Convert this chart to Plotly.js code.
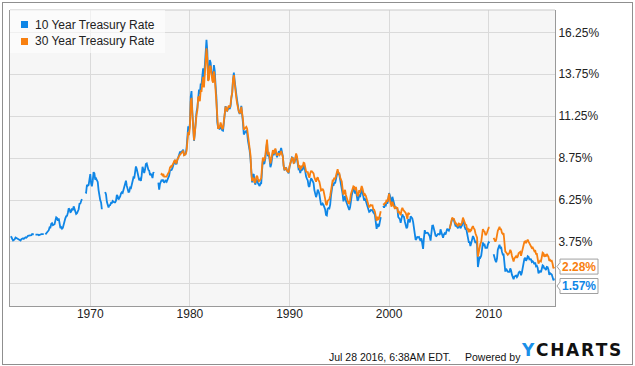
<!DOCTYPE html>
<html>
<head>
<meta charset="utf-8">
<script src="https://cdn.plot.ly/plotly-3.0.1.min.js"></script>
<style>
  html, body { margin: 0; padding: 0; background: #ffffff; }
  #wrap { position: relative; width: 635px; height: 366px; overflow: hidden; }
  #frame { position: absolute; left: 2px; top: 2px; width: 631px; height: 363px; box-sizing: border-box; border: 1px solid #8f8f8f; }
  #chart { position: absolute; left: 0; top: 0; width: 635px; height: 366px; }
</style>
</head>
<body>
<div id="wrap"><div id="frame"></div><div id="chart"></div></div>
<script>
// ---------------- DATA (monthly, %) ----------------
const seriesNames = ['10 Year Treasury Rate', '30 Year Treasury Rate'];
const seriesColors = ['#0f86e6', '#f88010'];

// 10 Year Treasury Rate, monthly from 1962-01
const r10Start = [1962, 1];
const r10_1960s = [
  4.08,4.04,3.93,3.84,3.87,3.91,4.01,3.98,3.98,3.93,3.92,3.86,
  3.83,3.92,3.93,3.97,3.93,3.99,4.02,4.00,4.08,4.11,4.12,4.13,
  4.17,4.15,4.22,4.23,4.20,null,4.19,4.19,4.20,4.19,4.15,4.18,
  4.19,4.21,4.21,4.20,4.21,null,4.20,4.25,4.29,4.35,4.45,4.62,
  4.61,4.83,4.87,4.75,4.78,4.81,5.02,5.22,5.18,5.01,5.16,4.84,
  4.58,4.63,4.54,4.59,4.85,5.02,5.16,5.28,5.30,5.48,5.75,5.70,
  5.53,5.56,5.74,5.64,5.87,5.72,5.50,5.42,5.46,5.58,5.70,6.03,
  6.04,6.19,6.30,null,null,null,6.72,6.69,7.16,7.10,7.14,7.65
];
const r10_1970s = [
  7.79,7.24,7.07,7.39,7.91,7.84,7.46,7.53,7.39,7.33,6.84,6.39,
  6.24,6.11,5.70,null,null,null,6.73,6.58,6.14,5.93,5.81,5.93,
  5.95,6.08,6.07,6.19,6.13,6.11,6.11,6.21,6.55,6.48,6.28,6.36,
  6.46,6.64,6.71,6.67,6.85,6.90,7.13,7.40,7.09,6.79,6.73,6.74,
  6.99,6.96,7.21,7.51,7.58,7.54,7.81,8.25,8.10,7.90,7.68,7.43,
  7.50,7.39,7.73,8.23,8.06,7.86,8.06,8.40,8.43,8.14,8.05,8.00,
  7.74,7.79,7.73,7.56,7.90,7.86,null,null,null,null,7.29,6.87,
  7.21,7.39,7.46,7.37,7.46,7.28,7.33,7.40,7.34,7.52,7.58,7.69,
  8.01,8.03,8.04,8.15,8.35,8.46,8.64,8.41,8.42,8.64,8.81,9.01,
  9.10,9.10,9.12,9.18,9.25,8.91,8.95,9.03,9.33,10.30,10.65,10.39
];
const r10_1980s = [
  10.80,12.41,12.75,11.47,10.18,9.78,10.25,11.10,11.51,11.75,12.68,12.84,
  12.57,13.19,13.12,13.68,14.10,13.47,14.28,14.94,15.80,15.15,13.39,13.72,
  14.59,14.43,13.86,13.87,13.62,14.30,13.95,13.06,12.34,10.91,10.55,10.54,
  10.46,10.72,10.51,10.40,10.38,10.85,11.38,11.85,11.65,11.54,11.69,11.83,
  11.67,11.84,12.32,12.63,13.41,13.85,13.36,12.72,12.52,12.16,11.57,11.50,
  11.38,11.51,11.86,11.43,10.85,10.16,10.31,10.33,10.37,10.24,9.78,9.26,
  9.19,8.70,7.78,7.30,7.71,7.80,7.30,7.17,7.45,7.43,7.25,7.11,
  7.08,7.25,7.25,8.02,8.61,8.40,8.45,8.76,9.42,9.70,8.86,8.99,
  8.67,8.21,8.37,8.72,9.09,8.92,9.06,9.26,8.98,8.80,8.96,9.11,
  9.09,9.17,9.36,9.18,8.86,8.28,8.02,8.11,8.19,8.01,7.87,7.84
];
const r10_1990s = [
  8.21,8.47,8.59,8.79,8.76,8.48,8.47,8.75,8.89,8.72,8.39,8.08,
  8.09,7.85,8.11,8.04,8.07,8.28,8.27,7.90,7.65,7.53,7.42,7.09,
  7.03,7.34,7.54,7.48,7.39,7.26,6.84,6.59,6.42,6.59,6.87,6.77,
  6.60,6.26,5.98,5.97,6.04,5.96,5.81,5.68,5.36,5.33,5.72,5.77,
  5.75,5.97,6.48,6.97,7.18,7.10,7.30,7.24,7.46,7.74,7.96,7.81,
  7.78,7.47,7.20,7.06,6.63,6.17,6.28,6.49,6.20,6.04,5.93,5.71,
  5.65,5.81,6.27,6.51,6.74,6.91,6.87,6.64,6.83,6.53,6.20,6.30,
  6.58,6.42,6.69,6.89,6.71,6.49,6.22,6.30,6.21,6.03,5.88,5.81,
  5.54,5.57,5.65,5.64,5.65,5.50,5.46,5.34,4.81,4.53,4.83,4.65,
  4.72,5.00,5.23,null,null,5.90,5.79,5.94,5.92,6.11,6.03,6.28
];
const r10_2000s = [
  6.66,6.52,6.26,5.99,6.44,6.10,6.05,5.83,5.80,5.74,5.72,5.24,
  5.16,5.10,4.89,5.14,5.39,5.28,5.24,4.97,4.73,4.57,4.65,5.09,
  5.04,4.91,5.28,5.21,5.16,4.93,4.65,4.26,3.87,3.94,4.05,4.03,
  4.05,3.90,3.81,3.96,3.57,3.33,3.98,4.45,4.27,4.29,4.30,4.27,
  4.15,4.08,3.83,4.35,4.72,4.73,4.50,4.28,4.13,4.10,4.19,4.23,
  4.22,4.17,4.50,4.34,4.14,4.00,4.18,4.26,4.20,4.46,4.54,4.47,
  4.42,4.57,4.72,4.99,5.11,5.11,5.09,4.88,4.72,4.73,4.60,4.56,
  4.76,4.72,4.56,4.69,4.75,5.10,5.00,4.67,4.52,4.53,4.15,4.10,
  3.74,3.74,3.51,3.68,3.88,4.10,4.01,3.89,3.69,3.81,3.53,2.25,
  2.52,2.87,2.82,2.93,3.29,3.72,3.56,3.59,3.40,3.39,3.40,3.59
];
const r10_2010s = [
  3.73,3.69,null,null,null,null,3.01,2.70,2.65,2.54,2.76,3.29,
  3.39,3.58,3.41,3.46,3.17,3.00,3.00,2.30,1.98,2.15,2.01,1.98,
  1.97,1.97,2.17,2.05,1.80,1.62,1.53,1.68,1.72,1.75,1.65,1.72,
  1.91,1.98,1.96,1.76,1.93,2.30,2.58,2.74,2.81,2.62,2.72,2.90,
  2.86,2.71,2.72,2.71,2.56,2.60,2.54,2.42,2.53,2.30,2.33,2.21,
  1.88,1.98,2.04,1.94,2.20,2.36,2.32,2.17,2.17,2.07,2.26,2.24,
  2.09,1.78,1.89,1.81,1.81,1.64,1.46
];

// 30 Year Treasury Rate, monthly; first run from 1977-02, second run from 2006-02
const r30aStart = [1977, 2];
const r30_1977to1989 = [
  7.75,7.80,7.73,7.80,7.64,7.64,7.68,7.64,7.77,7.85,7.94,
  8.18,8.25,8.23,8.34,8.43,8.50,8.65,8.47,8.47,8.69,8.75,8.88,
  8.94,8.96,9.03,9.08,9.19,8.92,8.93,8.98,9.17,9.85,10.30,10.12,
  10.60,12.13,12.34,11.40,10.36,9.81,10.24,11.00,11.34,11.59,12.37,12.40,
  12.14,12.80,12.69,13.20,13.60,12.96,13.59,14.17,15.30,14.68,13.35,13.45,
  14.22,14.22,13.53,13.37,13.24,13.92,13.55,12.77,12.07,11.17,10.54,10.54,
  10.63,10.88,10.63,10.48,10.53,10.93,11.40,11.82,11.63,11.58,11.75,11.88,
  11.75,11.95,12.38,12.65,13.43,13.70,13.21,12.54,12.29,11.98,11.56,11.52,
  11.45,11.47,11.81,11.47,11.05,10.45,10.50,10.56,10.61,10.50,10.06,9.54,
  9.40,8.93,7.96,7.39,7.52,7.57,7.27,7.33,7.62,7.70,7.52,7.37,
  7.39,7.54,7.55,8.25,8.78,8.57,8.64,8.97,9.59,9.85,8.95,9.12,
  8.83,8.43,8.63,8.95,9.23,9.00,9.14,9.32,9.06,8.89,9.02,9.01,
  8.93,9.01,9.17,9.03,8.83,8.27,8.08,8.12,8.15,8.00,7.90,7.90
];
const r30_1990s = [
  8.26,8.50,8.56,8.76,8.73,8.46,8.50,8.86,9.03,8.86,8.54,8.24,
  8.27,8.03,8.29,8.21,8.27,8.47,8.45,8.14,7.95,7.93,7.92,7.70,
  7.58,7.85,7.97,7.96,7.89,7.84,7.60,7.39,7.34,7.53,7.61,7.44,
  7.34,7.09,6.82,6.85,6.92,6.81,6.63,6.32,6.00,5.94,6.21,6.25,
  6.29,6.49,6.91,7.27,7.41,7.40,7.58,7.49,7.71,7.94,8.08,7.87,
  7.85,7.61,7.45,7.36,6.95,6.57,6.72,6.86,6.55,6.37,6.26,6.06,
  6.05,6.24,6.60,6.79,6.93,7.06,7.03,6.84,7.03,6.81,6.48,6.55,
  6.83,6.69,6.93,7.09,6.94,6.77,6.51,6.58,6.50,6.33,6.11,5.99,
  5.81,5.89,5.95,5.92,5.93,5.70,5.68,5.54,5.20,5.01,5.25,5.06,
  5.16,5.37,5.58,null,null,6.04,5.98,6.07,6.07,6.26,6.15,6.35
];
const r30_2000to2002 = [
  6.63,6.23,6.05,5.85,6.15,5.93,5.85,5.72,5.83,5.80,5.78,5.49,
  5.54,5.45,5.34,5.65,5.78,5.67,5.61,5.48,5.48,5.32,5.12,5.48,
  5.45,5.40
];
const r30bStart = [2006, 2];
const r30_2006to2009 = [
  4.54,4.73,5.06,5.20,5.15,5.13,5.00,4.85,4.85,4.69,4.68,
  4.85,4.82,4.72,4.87,4.90,5.20,5.11,4.93,4.79,4.77,4.52,4.53,
  4.33,4.52,4.39,4.44,4.60,4.69,4.57,4.50,4.27,4.17,4.00,2.87,
  3.13,3.59,3.64,3.76,4.23,4.52,4.41,4.37,4.19,4.19,4.31,4.49
];
const r30_2010s = [
  4.60,4.62,null,null,null,null,3.99,3.80,3.77,3.87,4.19,4.42,
  4.52,4.65,4.51,4.50,4.29,4.23,4.27,3.65,3.18,3.13,3.02,2.98,
  3.03,3.11,3.28,3.18,2.93,2.70,2.59,2.77,2.88,2.90,2.80,2.88,
  3.08,3.17,3.16,2.93,3.11,3.40,3.61,3.76,3.79,3.68,3.80,3.89,
  3.77,3.66,3.62,3.52,3.39,3.42,3.33,3.20,3.26,3.04,3.04,2.83,
  2.46,2.57,2.63,2.59,2.96,3.11,3.07,2.86,2.95,2.89,3.03,2.97,
  2.86,2.62,2.68,2.62,2.63,2.45,2.18
];

// last observation (Jul 28 2016)
const lastDate = '2016-07-28';
const last10 = 1.57;
const last30 = 2.28;

const xTickYears = [1970, 1980, 1990, 2000, 2010];
const yTickVals = [1.25, 3.75, 6.25, 8.75, 11.25, 13.75, 16.25];
const footerText = 'Jul 28 2016, 6:38AM EDT.';

// ---------------- BUILD ----------------
function monthDates(start, n) {
  const out = [];
  let y = start[0], m = start[1];
  for (let i = 0; i < n; i++) {
    out.push(y + '-' + String(m).padStart(2, '0') + '-01');
    m++; if (m > 12) { m = 1; y++; }
  }
  return out;
}

const y10 = [].concat(r10_1960s, r10_1970s, r10_1980s, r10_1990s, r10_2000s, r10_2010s);
const x10 = monthDates(r10Start, y10.length);
x10.push(lastDate); y10.push(last10);

const y30a = [].concat(r30_1977to1989, r30_1990s, r30_2000to2002);
const x30a = monthDates(r30aStart, y30a.length);
const y30b = [].concat(r30_2006to2009, r30_2010s);
const x30b = monthDates(r30bStart, y30b.length);
const x30 = x30a.concat(['2004-01-01'], x30b, [lastDate]);
const y30 = y30a.concat([null], y30b, [last30]);

const traces = [
  { x: x10, y: y10, type: 'scatter', mode: 'lines', name: seriesNames[0],
    line: { color: seriesColors[0], width: 1.8 }, connectgaps: false, hoverinfo: 'skip' },
  { x: x30, y: y30, type: 'scatter', mode: 'lines', name: seriesNames[1],
    line: { color: seriesColors[1], width: 1.8 }, connectgaps: false, hoverinfo: 'skip' }
];

// pixel helpers for layout placement (plot area: x 10..555, y 10..306)
const PL = 10, PR = 555, PT = 10, PB = 306;
const px = v => (v - PL) / (PR - PL);
const py = v => (PB - v) / (PB - PT);

const shapes = [
  { type: 'line', xref: 'paper', yref: 'paper', x0: 0, x1: 1, y0: 1, y1: 1, line: { color: '#c9c9c9', width: 1 } },
  { type: 'rect', xref: 'paper', yref: 'paper', x0: px(10), x1: px(165), y0: py(10), y1: py(53),
    fillcolor: 'rgba(255,255,255,0.6)', line: { width: 0 }, layer: 'above' },
  { type: 'rect', xref: 'paper', yref: 'paper', x0: px(21), x1: px(28), y0: py(21), y1: py(28),
    fillcolor: seriesColors[0], line: { width: 0 }, layer: 'above' },
  { type: 'rect', xref: 'paper', yref: 'paper', x0: px(21), x1: px(28), y0: py(38), y1: py(45),
    fillcolor: seriesColors[1], line: { width: 0 }, layer: 'above' }
];

function callout(val, shiftPx) {
  const s = shiftPx;
  const path = 'M 2,' + s + ' L 5,' + (s + 4) + ' L 5,' + (s + 7.5) + ' L 43,' + (s + 7.5) +
               ' L 43,' + (s - 7.5) + ' L 5,' + (s - 7.5) + ' L 5,' + (s - 4) + ' Z';
  return { type: 'path', xref: 'paper', yref: 'y', xsizemode: 'pixel', ysizemode: 'pixel',
    xanchor: 1, yanchor: val, path: path, fillcolor: '#ffffff', line: { color: '#a0a0a0', width: 1 }, layer: 'above' };
}
shapes.push(callout(last30, 0));
shapes.push(callout(last10, -7.5));

const annotations = [
  { xref: 'paper', yref: 'paper', x: px(33), y: py(24.5), xanchor: 'left', yanchor: 'middle', showarrow: false,
    text: seriesNames[0], font: { size: 12, color: '#222' } },
  { xref: 'paper', yref: 'paper', x: px(33), y: py(41), xanchor: 'left', yanchor: 'middle', showarrow: false,
    text: seriesNames[1], font: { size: 12, color: '#222' } },
  { xref: 'paper', yref: 'y', x: 1, y: last30, xanchor: 'center', yanchor: 'middle', xshift: 24, yshift: 0,
    showarrow: false, text: last30.toFixed(2) + '%', font: { size: 12, color: seriesColors[1], weight: 'bold' } },
  { xref: 'paper', yref: 'y', x: 1, y: last10, xanchor: 'center', yanchor: 'middle', xshift: 24, yshift: -7.5,
    showarrow: false, text: last10.toFixed(2) + '%', font: { size: 12, color: seriesColors[0], weight: 'bold' } },
  { xref: 'paper', yref: 'paper', x: px(453), y: py(356.5), xanchor: 'right', yanchor: 'middle', showarrow: false,
    text: footerText, font: { size: 10.5, color: '#111' } },
  { xref: 'paper', yref: 'paper', x: px(462.5), y: py(356.5), xanchor: 'left', yanchor: 'middle', showarrow: false,
    text: 'Powered by', font: { size: 10.5, color: '#111' } },
  { xref: 'paper', yref: 'paper', x: px(519), y: py(350), xanchor: 'left', yanchor: 'middle', showarrow: false,
    text: '<span style="color:#1a8fe8">Y</span>\u200AC\u200AH\u200AA\u200AR\u200AT\u200AS',
    font: { family: 'DejaVu Sans, sans-serif', size: 17, color: '#111', weight: 'bold' } }
];

const layout = {
  width: 635, height: 366,
  margin: { l: PL, r: 635 - PR, t: PT, b: 366 - PB, pad: 0 },
  paper_bgcolor: 'rgba(0,0,0,0)',
  plot_bgcolor: '#f6f6f6',
  showlegend: false,
  font: { family: 'Liberation Sans, Arial, sans-serif', size: 12, color: '#222' },
  xaxis: {
    type: 'date', range: ['1961-12-10', '2016-08-28'],
    tickvals: xTickYears.map(y => y + '-01-01'), ticktext: xTickYears.map(String),
    showgrid: true, gridcolor: '#dadada', gridwidth: 1,
    showline: true, linecolor: '#999', linewidth: 1, ticks: '', zeroline: false, fixedrange: true,
    ticklabelstandoff: -3,
    tickfont: { size: 12, color: '#222' }
  },
  yaxis: {
    side: 'right', range: [-0.07, 17.58],
    tickvals: yTickVals, ticktext: yTickVals.map(v => v === 1.25 ? '' : v.toFixed(2) + '%'),
    showgrid: true, gridcolor: '#dadada', gridwidth: 1,
    showline: true, linecolor: '#999', linewidth: 1, mirror: true, ticks: '', zeroline: false, fixedrange: true,
    tickfont: { size: 12, color: '#222' }
  },
  shapes: shapes,
  annotations: annotations
};

Plotly.newPlot('chart', traces, layout, { displayModeBar: false, staticPlot: true });
</script>
</body>
</html>
